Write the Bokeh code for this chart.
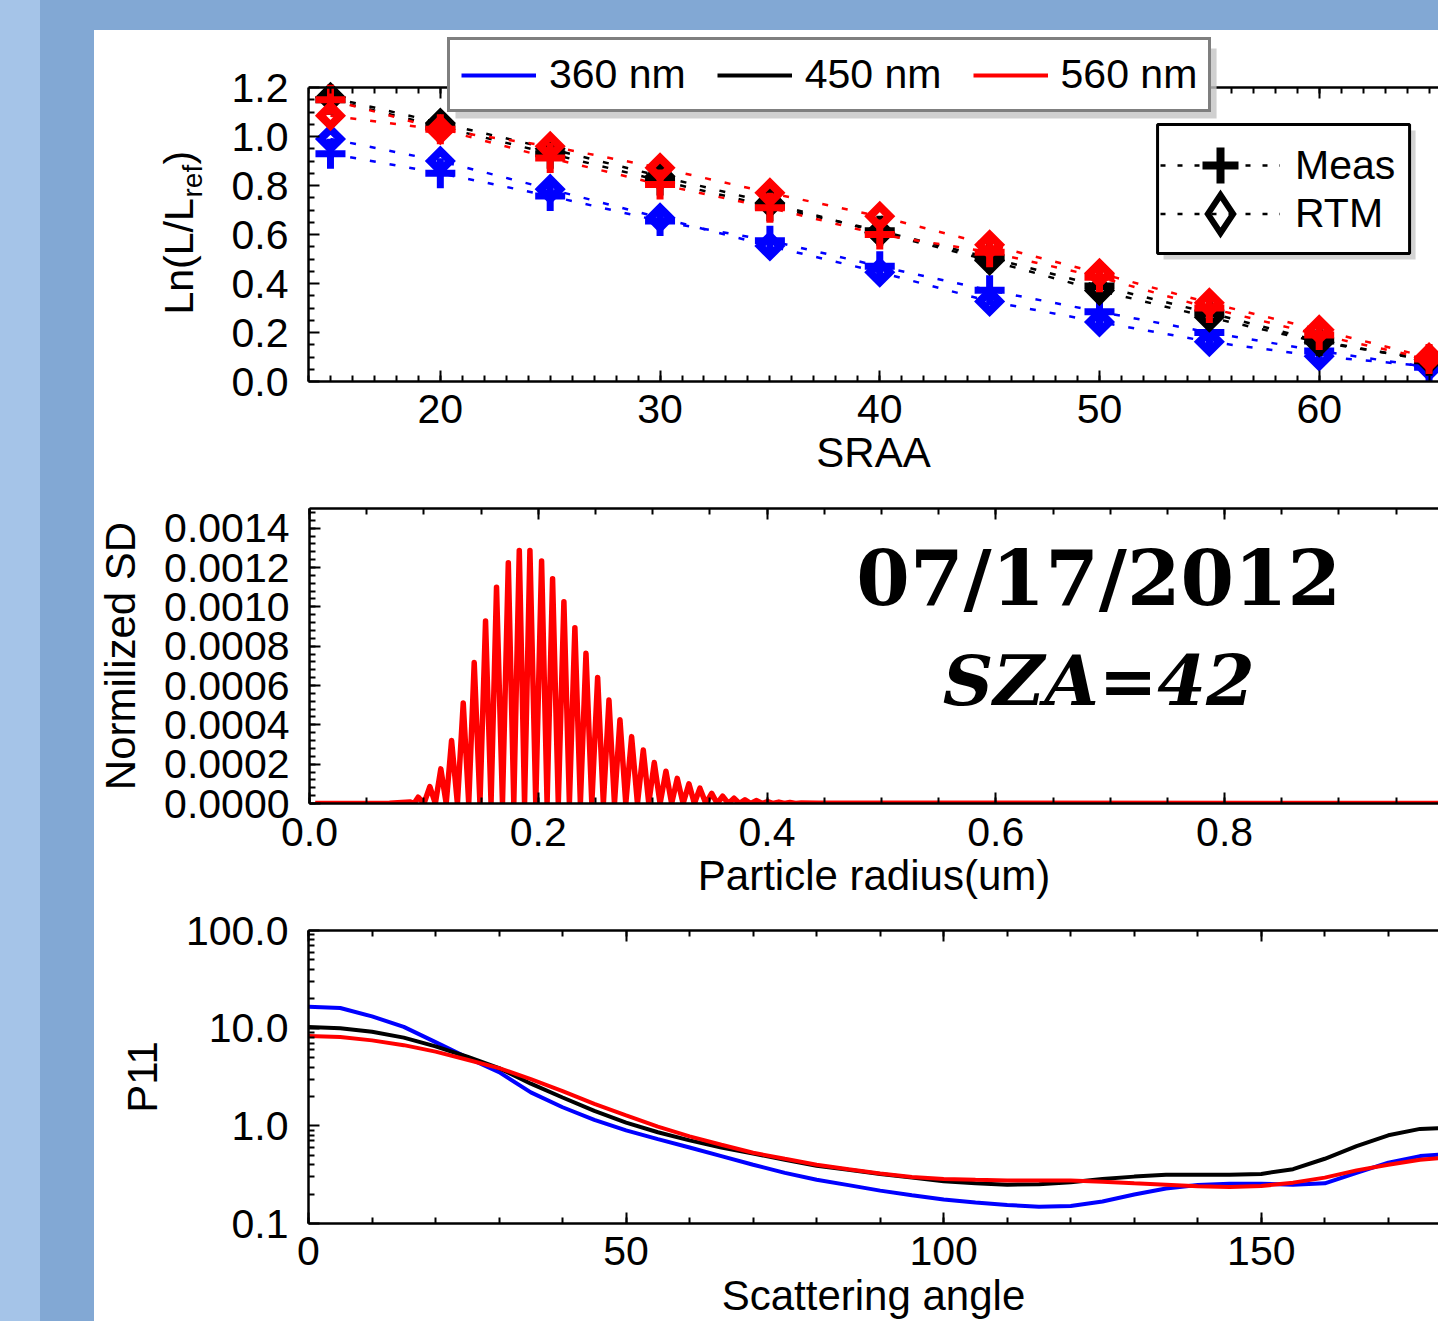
import numpy as np
from bokeh.plotting import figure
from bokeh.models import (Range1d, LinearAxis, SingleIntervalTicker, FixedTicker,
                          PrintfTickFormatter, CustomJSTickFormatter, Legend, LegendItem,
                          Label, Div, BoxAnnotation)
from bokeh.layouts import row, column
from bokeh.embed import file_html
from bokeh.resources import INLINE

# ---------------- data: top panel ----------------
sraa = [15, 20, 25, 30, 35, 40, 45, 50, 55, 60, 65]
meas_360 = [0.93, 0.85, 0.757, 0.655, 0.575, 0.47, 0.372, 0.285, 0.200, 0.125, 0.058]
rtm_360 = [0.99, 0.90, 0.785, 0.668, 0.553, 0.446, 0.327, 0.243, 0.162, 0.103, 0.062]
meas_450 = [1.15, 1.04, 0.93, 0.82, 0.715, 0.615, 0.505, 0.39, 0.28, 0.165, 0.085]
rtm_450 = [1.16, 1.055, 0.95, 0.838, 0.729, 0.608, 0.494, 0.371, 0.262, 0.160, 0.090]
meas_560 = [1.15, 1.03, 0.912, 0.804, 0.709, 0.600, 0.528, 0.426, 0.300, 0.190, 0.092]
rtm_560 = [1.085, 1.028, 0.960, 0.872, 0.770, 0.674, 0.558, 0.442, 0.321, 0.211, 0.098]
wl_labels = ["360 nm", "450 nm", "560 nm"]
wl_colors = ["#0000ff", "#000000", "#ff0000"]
y1_ticks = [0.0, 0.2, 0.4, 0.6, 0.8, 1.0, 1.2]

# ---------------- data: middle panel (size distribution) ----------------
sd_peak_r = [0.0877, 0.0950, 0.1052, 0.1148, 0.1242, 0.1344, 0.1440, 0.1539, 0.1635,
             0.1738, 0.1834, 0.1927, 0.2029, 0.2125, 0.2224, 0.2320, 0.2417, 0.2519,
             0.2618, 0.2714, 0.2816, 0.2918, 0.3014, 0.3116, 0.3215, 0.3317, 0.3413,
             0.3516, 0.3612, 0.3711, 0.3807, 0.3909, 0.4005, 0.4103, 0.4200, 0.4300]
sd_peak_v = [0.000008, 0.000032, 0.000086, 0.000176, 0.000320, 0.000511, 0.000717,
             0.000928, 0.001100, 0.001224, 0.001287, 0.001287, 0.001233, 0.001143,
             0.001026, 0.000894, 0.000764, 0.000641, 0.000526, 0.000426, 0.000340,
             0.000272, 0.000208, 0.000164, 0.000128, 0.000100, 0.000078, 0.000052,
             0.000037, 0.000027, 0.000019, 0.000015, 0.000010, 0.000007, 0.000005,
             0.000003]
sd_trough_r = [0.0914, 0.1001, 0.1100, 0.1195, 0.1293, 0.1392, 0.1490, 0.1587, 0.1687,
               0.1786, 0.1880, 0.1978, 0.2077, 0.2175, 0.2272, 0.2368, 0.2468, 0.2569,
               0.2666, 0.2765, 0.2867, 0.2966, 0.3065, 0.3166, 0.3266, 0.3365, 0.3465,
               0.3564, 0.3662, 0.3759, 0.3858, 0.3957, 0.4054, 0.4152, 0.4250]
sd_trough_v = [0.0] * len(sd_trough_r)
sd_base_r = [0.005, 0.070, 0.445, 0.987]
sd_base_v = [0.0, 0.000001, 0.000001, 0.0]

# ---------------- data: bottom panel (phase function) ----------------
scat_angle = [0, 5, 10, 15, 20, 25, 30, 35, 40, 45, 50, 55, 60, 65, 70, 75, 80, 85, 90,
              95, 100, 105, 110, 115, 120, 125, 130, 135, 140, 145, 150, 155, 160, 165,
              170, 175, 180]
p11_360 = [16.6, 16.1, 13.2, 10.3, 7.2, 5.0, 3.55, 2.2, 1.55, 1.15, 0.90, 0.73, 0.60,
           0.49, 0.40, 0.33, 0.281, 0.247, 0.217, 0.195, 0.176, 0.164, 0.155, 0.148,
           0.151, 0.168, 0.198, 0.228, 0.248, 0.255, 0.256, 0.250, 0.258, 0.330, 0.420,
           0.490, 0.520]
p11_450 = [10.3, 10.0, 9.2, 8.0, 6.5, 5.1, 3.9, 2.7, 1.95, 1.42, 1.08, 0.86, 0.71, 0.60,
           0.52, 0.45, 0.39, 0.355, 0.322, 0.295, 0.271, 0.258, 0.250, 0.252, 0.265,
           0.285, 0.302, 0.316, 0.316, 0.316, 0.322, 0.360, 0.460, 0.620, 0.800, 0.930,
           0.960]
p11_560 = [8.3, 8.1, 7.5, 6.7, 5.75, 4.75, 3.9, 3.0, 2.27, 1.68, 1.28, 0.98, 0.78, 0.64,
           0.53, 0.46, 0.40, 0.36, 0.325, 0.300, 0.286, 0.280, 0.275, 0.275, 0.275,
           0.268, 0.258, 0.250, 0.240, 0.236, 0.242, 0.262, 0.295, 0.350, 0.400, 0.450,
           0.480]

FONT = "Liberation Sans"
TICK_FS = "41px"
LAB_FS = "42px"
NAN2 = np.array([np.nan, np.nan])
EMPTY_FMT = CustomJSTickFormatter(code="return ''")


def style_fig(p):
    p.grid.visible = False
    p.outline_line_color = None
    p.background_fill_color = "white"
    p.border_fill_color = "white"
    p.frame_align = False


def style_axis(ax, label_standoff=17):
    ax.axis_line_width = 2.5
    ax.axis_line_color = "black"
    ax.major_tick_in = 11
    ax.major_tick_out = 0
    ax.minor_tick_in = 6
    ax.minor_tick_out = 0
    ax.major_tick_line_width = 2
    ax.minor_tick_line_width = 2
    ax.major_tick_line_color = "black"
    ax.minor_tick_line_color = "black"
    ax.major_label_text_font = FONT
    ax.major_label_text_font_size = TICK_FS
    ax.major_label_text_color = "black"
    ax.axis_label_text_font = FONT
    ax.axis_label_text_font_size = LAB_FS
    ax.axis_label_text_font_style = "normal"
    ax.axis_label_text_color = "black"
    ax.axis_label_standoff = label_standoff


def add_top_axis(p, ticker, fixed=None):
    ax = LinearAxis(ticker=ticker, formatter=EMPTY_FMT)
    style_axis(ax)
    ax.major_label_standoff = 0
    if fixed is not None:
        ax.fixed_location = fixed
    p.add_layout(ax, "above")


# ================= top panel =================
# label strip left of the top panel (holds the y title with its subscript)
lab1 = figure(width=120, height=455, x_range=Range1d(94, 214), y_range=Range1d(485, 30),
              output_backend="svg", toolbar_location=None, x_axis_location=None,
              y_axis_location=None, min_border_left=0, min_border_right=0,
              min_border_top=0, min_border_bottom=0)
style_fig(lab1)
for txt, xv, yv, fs in [("Ln(L/L", 178, 314, "41px"), ("ref", 192, 197, "28px"),
                        (")", 178, 164, "41px")]:
    lab1.add_layout(Label(x=xv, y=yv, text=txt, angle=np.pi / 2, text_font=FONT,
                          text_font_size=fs, text_align="left", text_baseline="alphabetic",
                          text_color="black"))

y1_top = (381 - 36) / 245.0
p1 = figure(width=1224, height=455, x_range=Range1d(14, 65.43), y_range=Range1d(0, y1_top),
            output_backend="svg", toolbar_location=None,
            min_border_left=94, min_border_right=0, min_border_top=6, min_border_bottom=104)
style_fig(p1)
xt1 = SingleIntervalTicker(interval=10, num_minor_ticks=10)
yt1 = FixedTicker(ticks=y1_ticks,
                  minor_ticks=[i * 0.05 for i in range(25) if i % 4])
p1.xaxis.ticker = xt1
p1.yaxis.ticker = yt1
p1.yaxis.bounds = (0, 1.2)
p1.yaxis.formatter = PrintfTickFormatter(format="%.1f")
for ax in p1.xaxis + p1.yaxis:
    style_axis(ax)
p1.xaxis.major_label_standoff = 13
p1.yaxis.major_label_standoff = 20
p1.xaxis.axis_label = "SRAA"
p1.xaxis.axis_label_standoff = 3
add_top_axis(p1, xt1, fixed=1.2)

series = [(meas_360, rtm_360, wl_colors[0]), (meas_450, rtm_450, wl_colors[1]),
          (meas_560, rtm_560, wl_colors[2])]
for meas, rtm, c in series:
    p1.line(sraa, meas, line_color=c, line_width=2.5, line_dash="6 14")
    p1.line(sraa, rtm, line_color=c, line_width=2.5, line_dash="6 14")
for meas, rtm, c in series:
    p1.scatter(sraa, meas, marker="cross", size=30, line_width=7, line_color=c)
    p1.scatter(sraa, rtm, marker="square", angle=np.pi / 4, size=14, line_width=8,
               line_color=c, fill_color=None, line_join="miter")


def px2d(px, py):
    return 14 + (px - 308) / 21.97, (381 - py) / 245.0


# legend 1 shadow
(xa, ya), (xb, yb) = px2d(455, 48), px2d(1216, 118)
p1.add_layout(BoxAnnotation(left=xa, right=xb, top=ya, bottom=yb, fill_color="#c4c4c4",
                            fill_alpha=0.8, line_color=None, level="overlay"))

# legend 1: wavelengths
wl_items = []
for lab, c in zip(wl_labels, wl_colors):
    r = p1.line(NAN2, NAN2, line_color=c, line_width=4)
    wl_items.append(LegendItem(label=lab, renderers=[r]))
leg1 = Legend(items=wl_items, orientation="horizontal", location=(139, 269),
              border_line_color="black", border_line_width=3, background_fill_color="white",
              background_fill_alpha=1.0, label_text_font=FONT, label_text_font_size="41px",
              label_text_color="black", glyph_width=75, glyph_height=40, label_standoff=13,
              spacing=31, padding=11, margin=0, level="overlay")
p1.add_layout(leg1)

# legend 2 frame + shadow
(xa, ya), (xb, yb) = px2d(1163, 130), px2d(1415, 259)
p1.add_layout(BoxAnnotation(left=xa, right=xb, top=ya, bottom=yb, fill_color="#c8c8c8",
                            fill_alpha=0.8, line_color=None, level="overlay"))
(xa, ya), (xb, yb) = px2d(1157, 124), px2d(1409, 253)
p1.add_layout(BoxAnnotation(left=xa, right=xb, top=ya, bottom=yb, fill_color="white",
                            fill_alpha=1.0, line_color="black", line_width=3, line_alpha=1.0,
                            level="overlay"))

# legend 2 entries: measurement vs model
lm = p1.line(NAN2, NAN2, line_color="black", line_width=2.5, line_dash="5 12")
sm = p1.scatter(NAN2, NAN2, marker="cross", size=30, line_width=8, line_color="black")
lr = p1.line(NAN2, NAN2, line_color="black", line_width=2.5, line_dash="5 12")
sr = p1.scatter(NAN2, NAN2, marker="diamond", size=24, line_width=6,
                line_color="black", fill_color=None, line_join="miter")
for item, loc, gh in [(LegendItem(label="Meas", renderers=[lm, sm]), (852, 171), 90),
                      (LegendItem(label="RTM", renderers=[lr, sr]), (852, 120), 95)]:
    p1.add_layout(Legend(items=[item], location=loc, border_line_color=None,
                         background_fill_alpha=0.0, label_text_font=FONT,
                         label_text_font_size="41px", label_text_color="black",
                         glyph_width=120, glyph_height=gh, label_standoff=15, padding=0,
                         spacing=0, margin=0, level="overlay"))

# ================= middle panel =================
p2 = figure(width=1344, height=420, x_range=Range1d(0, 0.987), y_range=Range1d(0, 0.0015),
            output_backend="svg", toolbar_location=None,
            min_border_left=214, min_border_right=0, min_border_top=23, min_border_bottom=102)
style_fig(p2)
xt2 = SingleIntervalTicker(interval=0.2, num_minor_ticks=4)
yt2 = SingleIntervalTicker(interval=0.0002, num_minor_ticks=5)
p2.xaxis.ticker = xt2
p2.yaxis.ticker = yt2
p2.xaxis.formatter = PrintfTickFormatter(format="%.1f")
p2.yaxis.formatter = PrintfTickFormatter(format="%.4f")
for ax in p2.xaxis + p2.yaxis:
    style_axis(ax, label_standoff=17)
p2.xaxis.major_label_standoff = 14
p2.yaxis.major_label_standoff = 20
p2.xaxis.axis_label = "Particle radius(um)"
p2.xaxis.axis_label_standoff = 3
p2.yaxis.axis_label = "Normilized SD"
add_top_axis(p2, xt2)

pts = sorted(list(zip(sd_peak_r, sd_peak_v)) + list(zip(sd_trough_r, sd_trough_v))
             + list(zip(sd_base_r, sd_base_v)))
p2.line([q[0] for q in pts], [q[1] for q in pts], line_color="#ff0000", line_width=5.5,
        line_join="round")

p2.add_layout(Label(x=0.69, y=0.001146, text="07/17/2012", text_font="DejaVu Serif",
                    text_font_style="bold", text_font_size="77px", text_align="center",
                    text_baseline="alphabetic", text_color="black"))
p2.add_layout(Label(x=0.69, y=0.000626, text="SZA=42", text_font="DejaVu Serif",
                    text_font_style="bold italic", text_font_size="70px", text_align="center",
                    text_baseline="alphabetic", text_color="black"))

# ================= bottom panel =================
p3 = figure(width=1344, height=416, x_range=Range1d(0, 177.9), y_range=Range1d(0.1, 100),
            y_axis_type="log", output_backend="svg", toolbar_location=None,
            min_border_left=214, min_border_right=0, min_border_top=25, min_border_bottom=95)
style_fig(p3)
xt3 = SingleIntervalTicker(interval=50, num_minor_ticks=5)
log_minor = [m * d for d in (0.1, 1, 10) for m in range(2, 10)]
yt3 = FixedTicker(ticks=[0.1, 1, 10, 100], minor_ticks=log_minor)
p3.xaxis.ticker = xt3
p3.yaxis.ticker = yt3
p3.yaxis.formatter = PrintfTickFormatter(format="%.1f")
for ax in p3.xaxis + p3.yaxis:
    style_axis(ax, label_standoff=17)
p3.xaxis.major_label_standoff = 13
p3.yaxis.major_label_standoff = 20
p3.xaxis.axis_label = "Scattering angle"
p3.xaxis.axis_label_standoff = 4
p3.yaxis.axis_label = "P11"
add_top_axis(p3, xt3)

for vals, c in zip([p11_360, p11_450, p11_560], wl_colors):
    p3.line(scat_angle, vals, line_color=c, line_width=4)

# ================= page layout (slide background) =================
left_light = Div(text="", width=40, height=1321, margin=0,
                 styles={"background-color": "#a5c4e8"})
top_band = Div(text="", width=1398, height=30, margin=0,
               styles={"background-color": "#82a8d4"})
left_mid = Div(text="", width=54, height=1291, margin=0,
               styles={"background-color": "#82a8d4"})
plots = column(row(lab1, p1, spacing=0), p2, p3, spacing=0)
inner = row(left_mid, plots, spacing=0)
right = column(top_band, inner, spacing=0)
layout = row(left_light, right, spacing=0)

open("out.html", "w").write(file_html(layout, INLINE))
